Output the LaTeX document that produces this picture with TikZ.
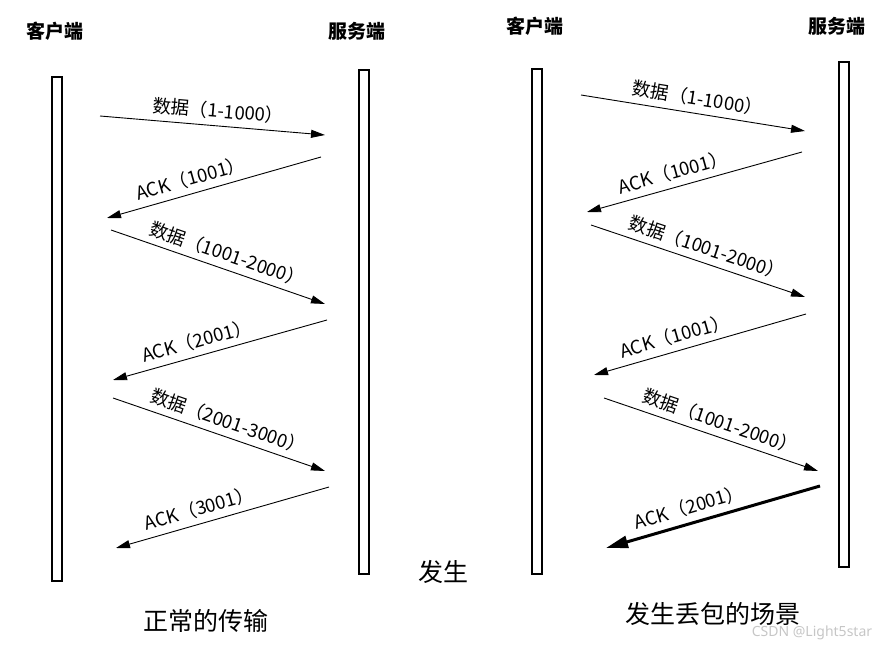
\documentclass[tikz,border=0pt]{standalone}
\usepackage{fontspec}
\newfontfamily\cjk{Noto Sans CJK SC}
\newfontfamily\wmfont{Noto Sans}
\usetikzlibrary{arrows.meta}

\tikzset{
  bar/.style={draw, line width=1.2pt, minimum width=10pt, inner sep=0pt},
  msg/.style={-{Triangle[length=14pt,width=8pt]}, line width=0.9pt},
  lost/.style={-{Triangle[length=22pt,width=12pt]}, line width=3pt},
  lbl/.style={sloped, above=4pt, inner sep=2pt, font=\cjk\fontsize{18.5}{18.5}\selectfont},
  head/.style={font=\cjk\bfseries\fontsize{19}{19}\selectfont},
  title/.style={font=\cjk\fontsize{25}{25}\selectfont},
}

\begin{document}
\begin{tikzpicture}[x=1pt,y=-1pt]
\useasboundingbox (0,0) rectangle (886,647);

% normal transfer
\node[head] (lc) at (55,31) {客户端};
\node[head] (ls) at (357,31) {服务端};
\node[bar, minimum height=504pt] (lcbar) at (57,329) {};
\node[bar, minimum height=504pt] (lsbar) at (364,322) {};

\foreach \n/\sx/\sy/\ex/\ey/\p/\t in {
  1/100/116/325/135/0.52/数据（1-1000）,
  2/321/157/107/218/0.59/ACK（1001）,
  3/111/230/325/304/0.52/数据（1001-2000）,
  4/327/320/113/380/0.59/ACK（2001）,
  5/113/398/325/471/0.52/数据（2001-3000）,
  6/329/487/116/548/0.59/ACK（3001）}{
  \coordinate (la\n) at (\sx,\sy);
  \coordinate (lb\n) at (\ex,\ey);
  \draw[msg] (la\n) -- node[lbl, pos=\p] (lt\n) {\t} (lb\n);
}

\node[title] (ltitle) at (206,621) {正常的传输};
\node[title] (mid) at (443,572) {发生};

% packet loss
\node[head] (rc) at (535,26) {客户端};
\node[head] (rs) at (837,26) {服务端};
\node[bar, minimum height=505pt] (rcbar) at (537,321.5) {};
\node[bar, minimum height=505pt] (rsbar) at (844,314.5) {};

\foreach \n/\sx/\sy/\ex/\ey/\p/\t in {
  1/581/95/805/131/0.51/数据（1-1000）,
  2/802/152/587/212/0.58/ACK（1001）,
  3/591/225/805/297/0.52/数据（1001-2000）,
  4/806/314/594/375/0.6/ACK（1001）,
  5/604/398/818/471/0.52/数据（1001-2000）}{
  \coordinate (ra\n) at (\sx,\sy);
  \coordinate (rb\n) at (\ex,\ey);
  \draw[msg] (ra\n) -- node[lbl, pos=\p] (rt\n) {\t} (rb\n);
}
\coordinate (ra6) at (820,486);
\coordinate (rb6) at (606,548);
\draw[lost] (ra6) -- node[lbl, pos=0.59] (rt6) {ACK（2001）} (rb6);

\node[title] (rtitle) at (713,614) {发生丢包的场景};
\node[font=\wmfont\fontsize{14}{14}\selectfont, text=gray!45] (wm) at (812,633) {CSDN @Light5star};
\end{tikzpicture}
\end{document}
